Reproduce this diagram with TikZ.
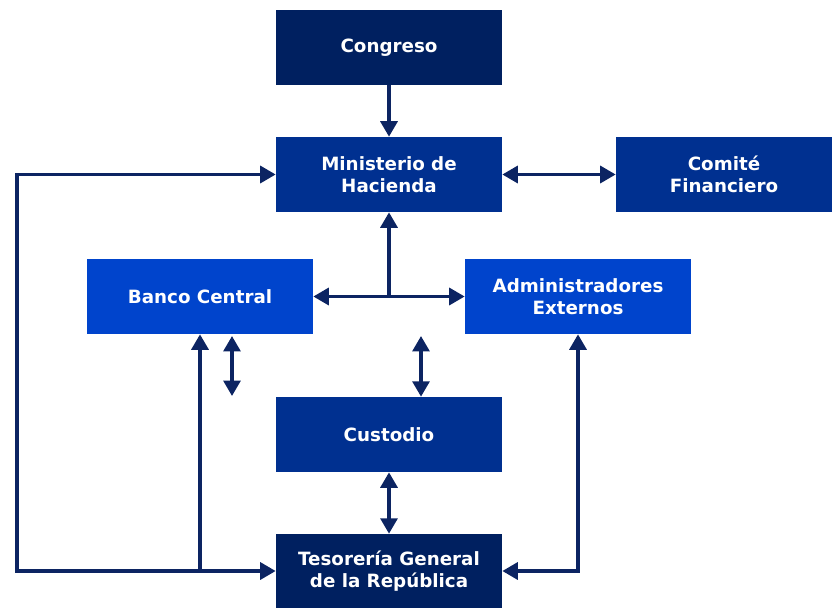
\documentclass[tikz,border=0pt]{standalone}
\usepackage{fontspec}
\setmainfont{DejaVu Sans}
\usetikzlibrary{arrows.meta}
\definecolor{navyd}{HTML}{002060}
\definecolor{navym}{HTML}{003090}
\definecolor{bluel}{HTML}{0044CC}
\definecolor{linec}{HTML}{0C2462}

\begin{document}
\begin{tikzpicture}[x=0.025cm,y=-0.025cm]
\tikzstyle{every node}=[font=\bfseries\fontsize{13}{16}\selectfont,text=white,align=center]
\tikzstyle{box}=[rectangle,inner sep=0pt,minimum width=5.65cm,minimum height=1.875cm]
\tikzstyle{conn}=[linec,line width=2.5pt,arrows={-Triangle[length=11pt,width=12pt]}]
\tikzstyle{both}=[conn,arrows={Triangle[length=11pt,width=12pt]-Triangle[length=11pt,width=12pt]}]
\useasboundingbox (0,0) rectangle (833,607);

\node[box,fill=navyd] (cong) at (389,47.5) {Congreso};
\node[box,fill=navym] (mh) at (389,174.5) {Ministerio de\\Hacienda};
\node[box,fill=navym,minimum width=5.4cm] (cf) at (724,174.5) {Comité\\Financiero};
\node[box,fill=bluel] (bc) at (200,296.5) {Banco Central};
\node[box,fill=bluel] (ae) at (578,296.5) {Administradores\\Externos};
\node[box,fill=navym] (cu) at (389,434.5) {Custodio};
\node[box,fill=navyd,minimum height=1.85cm] (tgr) at (389,571) {Tesorería General\\de la República};

\coordinate (j) at (389,296.5);
\coordinate (lb) at (17,571);
\coordinate (f1) at (232,336);
\coordinate (f2) at (232,396);
\coordinate (c1) at (421,336);

\draw[conn] (cong) -- (mh);
\draw[both] (mh) -- (cf);
\draw[conn] (j) -- (mh.south);
\draw[both] (bc) -- (ae);
\draw[both] (mh.west) -| (lb) -- (tgr.west);
\draw[conn] (bc.south |- tgr.west) -- (bc.south);
\draw[both] (f1) -- (f2);
\draw[both] (c1) -- (c1 |- cu.north);
\draw[both] (cu) -- (tgr);
\draw[both] (ae.south) |- (tgr.east);

\end{tikzpicture}
\end{document}
